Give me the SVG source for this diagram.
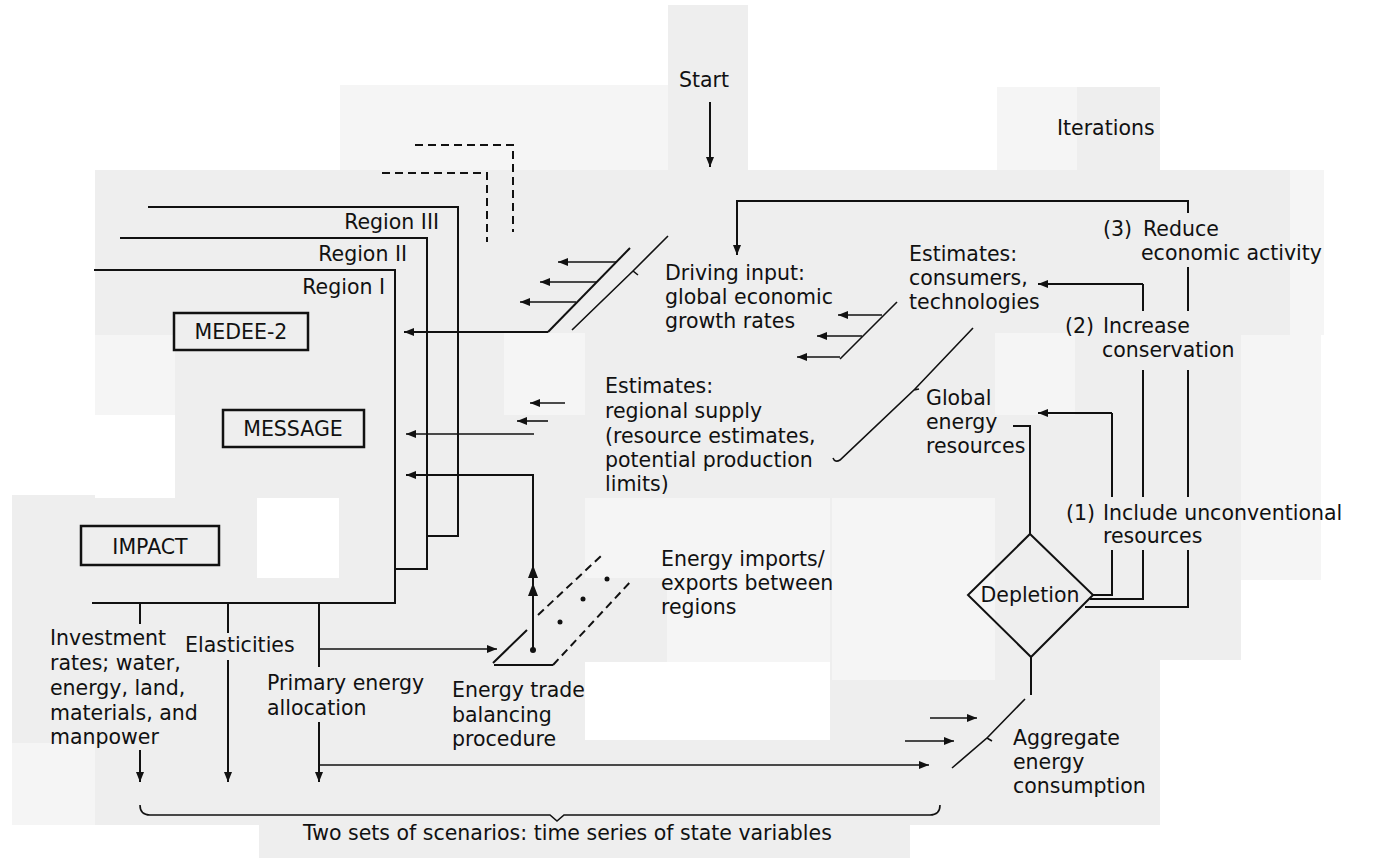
<svg xmlns="http://www.w3.org/2000/svg" width="1399" height="858" viewBox="0 0 1399 858">
<style>
.bg{fill:#eeeeee}
.bl{fill:#f5f5f5}
.wh{fill:#ffffff}
.t{font-family:"DejaVu Sans","Liberation Sans",sans-serif;font-size:20.5px;fill:#111}
.m{text-anchor:middle}
.e{text-anchor:end}
.ln{stroke:#111;stroke-width:2;fill:none}
.th{stroke:#111;stroke-width:1.6;fill:none}
.ds{stroke-dasharray:8 5}
.ar{marker-end:url(#ah)}
.box{stroke:#111;stroke-width:2.5;fill:none}
.dot{fill:#111}
</style>
<defs>
<marker id="ah" viewBox="0 0 10 8" refX="10" refY="4" markerWidth="10" markerHeight="8" markerUnits="userSpaceOnUse" orient="auto">
<path d="M0,0 L10,4 L0,8 z" fill="#111"/>
</marker>
</defs>
<rect width="1399" height="858" fill="#ffffff"/>
<g id="background">
<rect class="bg" x="668" y="5" width="80" height="165"/>
<rect class="bl" x="340" y="85" width="328" height="85"/>
<rect class="bl" x="997" y="87" width="163" height="83"/>
<rect class="bg" x="1077" y="87" width="83" height="83"/>
<rect class="bg" x="95" y="170" width="1195" height="165"/>
<rect class="bl" x="1290" y="170" width="34" height="165"/>
<rect class="bg" x="95" y="335" width="1065" height="490"/>
<rect class="bg" x="1160" y="335" width="81" height="325"/>
<rect class="bl" x="1241" y="335" width="80" height="245"/>
<rect class="bg" x="12" y="495" width="83" height="248"/>
<rect class="bl" x="12" y="743" width="83" height="82"/>
<rect class="bg" x="259" y="825" width="651" height="33"/>
<rect class="bl" x="95" y="335" width="80" height="80"/>
<rect class="wh" x="95" y="415" width="80" height="83"/>
<rect class="wh" x="257" y="498" width="82" height="80"/>
<rect class="bl" x="504" y="333" width="81" height="82"/>
<rect class="bl" x="585" y="498" width="82" height="80"/>
<rect class="wh" x="585" y="662" width="245" height="78"/>
<rect class="bl" x="667" y="498" width="163" height="164"/>
<rect class="bl" x="832" y="498" width="163" height="182"/>
<rect class="bl" x="995" y="333" width="80" height="82"/>
</g>
<g id="connectors">
<path class="ln ar" d="M710,102 V167"/>
<path class="ln ar" d="M1188,213 V201 H737 V255"/>
<path class="ln ar" d="M548,332 H404"/>
<path class="ln" d="M548,332 L630,248"/>
<path class="th" d="M572,330 L633,271 L638,275 M633,271 L668,236"/>
<path class="th ar" d="M616,262 H558"/>
<path class="th ar" d="M597,282 H540"/>
<path class="th ar" d="M576,302 H520"/>
<path class="th" d="M897,302 L840,359"/>
<path class="th ar" d="M882,315 H838"/>
<path class="th ar" d="M862,336 H817"/>
<path class="th ar" d="M840,357 H797"/>
<path class="th ar" d="M565,403 H530"/>
<path class="th ar" d="M548,421 H517"/>
<path class="th ar" d="M534,434 H406"/>
<path class="ln ar" d="M533,650 V475 H406"/>
<path class="dot" d="M533,565 L528,578 H538 z M533,583 L528,596 H538 z"/>
<circle class="dot" cx="533" cy="650" r="3"/>
<path class="th" d="M833,458 Q835,463 840,460 L914,390 L919,389 M914,390 L973,328"/>
<path class="ln" d="M1013,426 H1030 V534"/>
<path class="ln" d="M1093,595 H1112 V550 M1112,497 V413"/>
<path class="ln ar" d="M1112,413 H1038"/>
<path class="ln" d="M1090,599 H1143 V550 M1143,497 V370 M1143,311 V284"/>
<path class="ln ar" d="M1143,284 H1038"/>
<path class="ln" d="M1085,607 H1188 V550 M1188,497 V370 M1188,311 V267"/>
<path class="ln" d="M1031,657 V695"/>
<path class="th" d="M952,768 L987,738 L992,741 M987,738 L1025,699"/>
<path class="th ar" d="M930,718 H977"/>
<path class="th ar" d="M905,741 H954"/>
<path class="th ar" d="M319,765 H929"/>
<path class="th ar" d="M319,649 H497"/>
<path class="ln" d="M140,603 V624"/>
<path class="ln ar" d="M140,750 V782"/>
<path class="ln" d="M228,603 V633"/>
<path class="ln ar" d="M228,660 V782"/>
<path class="ln" d="M319,603 V667"/>
<path class="ln ar" d="M319,722 V782"/>
<path class="th" d="M140,805 Q140,815 150,815 H550 L557,821 L564,815 H930 Q940,815 940,805"/>
</g>
<g id="start"><text class="t" x="679" y="87">Start</text></g>
<g id="iterations"><text class="t" x="1057" y="135">Iterations</text></g>
<g id="future-regions">
<path class="ln ds" d="M415,145 H513 V232"/>
<path class="ln ds" d="M382,173 H487 V242"/>
</g>
<g id="region-3">
<path class="ln" d="M148,207 H458 V536 H427"/>
<text class="t e" x="439" y="229">Region III</text>
</g>
<g id="region-2">
<path class="ln" d="M120,238 H427 V569 H395"/>
<text class="t e" x="407" y="261">Region II</text>
</g>
<g id="region-1">
<path class="ln" d="M94,270 H395 V603 H92"/>
<text class="t e" x="385" y="294">Region I</text>
</g>
<g id="medee2">
<rect class="box" x="174" y="313" width="134" height="37"/>
<text class="t m" x="241" y="339">MEDEE-2</text>
</g>
<g id="message">
<rect class="box" x="223" y="410" width="141" height="37"/>
<text class="t m" x="293" y="436">MESSAGE</text>
</g>
<g id="impact">
<rect class="box" x="81" y="526" width="138" height="39"/>
<text class="t m" x="150" y="554">IMPACT</text>
</g>
<g id="driving-input">
<text class="t" x="665" y="280">Driving input:</text>
<text class="t" x="665" y="304">global economic</text>
<text class="t" x="665" y="328">growth rates</text>
</g>
<g id="estimates-consumers">
<text class="t" x="909" y="261">Estimates:</text>
<text class="t" x="909" y="285">consumers,</text>
<text class="t" x="909" y="309">technologies</text>
</g>
<g id="reduce">
<text class="t" y="236"><tspan x="1103">(3)</tspan><tspan x="1143">Reduce</tspan></text>
<text class="t" x="1141" y="260">economic activity</text>
</g>
<g id="increase">
<text class="t" y="333"><tspan x="1065">(2)</tspan><tspan x="1103">Increase</tspan></text>
<text class="t" x="1102" y="357">conservation</text>
</g>
<g id="include">
<text class="t" y="520"><tspan x="1066">(1)</tspan><tspan x="1103">Include unconventional</tspan></text>
<text class="t" x="1103" y="543">resources</text>
</g>
<g id="estimates-supply">
<text class="t" x="605" y="393">Estimates:</text>
<text class="t" x="605" y="418">regional supply</text>
<text class="t" x="605" y="443">(resource estimates,</text>
<text class="t" x="605" y="467">potential production</text>
<text class="t" x="605" y="491">limits)</text>
</g>
<g id="global-resources">
<text class="t" x="926" y="405">Global</text>
<text class="t" x="926" y="429">energy</text>
<text class="t" x="926" y="453">resources</text>
</g>
<g id="depletion">
<polygon class="ln" points="1030,534 1093,595 1031,657 968,595"/>
<text class="t m" x="1030" y="602">Depletion</text>
</g>
<g id="energy-imports">
<text class="t" x="661" y="566">Energy imports/</text>
<text class="t" x="661" y="590">exports between</text>
<text class="t" x="661" y="614">regions</text>
</g>
<g id="energy-trade">
<path class="ln" d="M493,663 L527,630 M494,665 H553"/>
<path class="ln ds" d="M553,665 L632,580 M538,615 L602,555"/>
<circle class="dot" cx="607" cy="579" r="2.5"/>
<circle class="dot" cx="583" cy="599" r="2.5"/>
<circle class="dot" cx="560" cy="622" r="2.5"/>
<text class="t" x="452" y="697">Energy trade</text>
<text class="t" x="452" y="722">balancing</text>
<text class="t" x="452" y="746">procedure</text>
</g>
<g id="investment">
<text class="t" x="50" y="645">Investment</text>
<text class="t" x="50" y="670">rates; water,</text>
<text class="t" x="50" y="695">energy, land,</text>
<text class="t" x="50" y="720">materials, and</text>
<text class="t" x="50" y="744">manpower</text>
</g>
<g id="elasticities"><text class="t" x="185" y="652">Elasticities</text></g>
<g id="primary-energy">
<text class="t" x="267" y="690">Primary energy</text>
<text class="t" x="267" y="715">allocation</text>
</g>
<g id="aggregate">
<text class="t" x="1013" y="745">Aggregate</text>
<text class="t" x="1013" y="769">energy</text>
<text class="t" x="1013" y="793">consumption</text>
</g>
<g id="scenarios"><text class="t" x="303" y="840">Two sets of scenarios: time series of state variables</text></g>
</svg>
